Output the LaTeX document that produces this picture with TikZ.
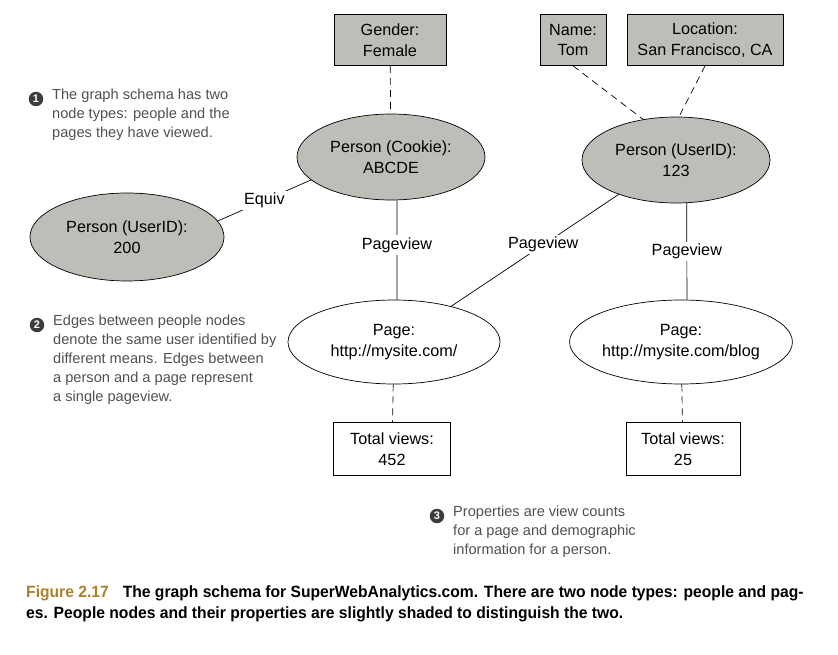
\documentclass[tikz,border=0pt]{standalone}
\usepackage{fontspec}
\setmainfont{Liberation Sans}
\newfontfamily\capfont[FakeStretch=0.96]{Liberation Sans}
\usetikzlibrary{shapes.geometric}
\definecolor{pgray}{RGB}{190,190,185}
\definecolor{anntext}{RGB}{80,80,80}
\definecolor{bullet}{RGB}{60,60,60}
\definecolor{figgold}{RGB}{170,130,45}
\tikzset{
  person/.style={ellipse,draw=black,fill=pgray,line width=0.7pt,minimum width=188pt,minimum height=86pt,inner sep=0pt,align=center,font=\fontsize{16.2}{20.5}\selectfont},
  pagenode/.style={ellipse,draw=black,fill=white,line width=0.7pt,minimum width=212pt,minimum height=84pt,inner sep=0pt,align=center,font=\fontsize{16.2}{20.5}\selectfont},
  propbox/.style={rectangle,draw=black,fill=pgray,line width=0.7pt,align=center,inner sep=0pt,font=\fontsize{16.2}{20.5}\selectfont},
  viewbox/.style={rectangle,draw=black,fill=white,line width=0.7pt,align=center,inner sep=0pt,font=\fontsize{16.2}{20.5}\selectfont},
  edge/.style={draw=black,line width=0.7pt},
  prop/.style={draw=black,line width=0.7pt,dash pattern=on 7pt off 5pt},
  elabel/.style={fill=white,inner sep=2pt,font=\fontsize{16.2}{20}\selectfont},
  ann/.style={anchor=north west,align=left,text=anntext,inner sep=0pt,font=\fontsize{14.6}{19}\selectfont},
  bul/.style={circle,fill=bullet,text=white,inner sep=0pt,minimum size=14.5pt,font=\fontsize{11}{11}\selectfont\bfseries},
  captext/.style={anchor=west,inner sep=0pt,font=\capfont\fontsize{16.3}{20}\selectfont\bfseries}
}
\begin{document}
\begin{tikzpicture}[x=1pt,y=-1pt]
\useasboundingbox (0,0) rectangle (838,655);
% property boxes
\node[propbox,minimum width=112pt,minimum height=51pt] (gender) at (390,40) {Gender:\\Female};
\node[propbox,minimum width=66pt,minimum height=51pt] (name) at (573,40) {Name:\\Tom};
\node[propbox,minimum width=156pt,minimum height=51pt] (loc) at (705,40) {Location:\\San Francisco, CA};
% persons
\node[person] (cookie) at (391,157) {Person (Cookie):\\ABCDE};
\node[person] (u123) at (676,160) {Person (UserID):\\123};
\node[person,minimum width=194pt,minimum height=88pt] (u200) at (127,237) {Person (UserID):\\200};
% pages
\node[pagenode] (page1) at (394,342) {Page:\\http://mysite.com/};
\node[pagenode,minimum width=220pt] (page2) at (681,342) {Page:\\http://mysite.com/blog};
% view boxes
\node[viewbox,minimum width=117pt,minimum height=53pt] (tv1) at (392,449) {Total views:\\452};
\node[viewbox,minimum width=114pt,minimum height=53pt] (tv2) at (683,449) {Total views:\\25};
% connectors
\draw[prop] (gender) -- (cookie);
\draw[prop] (name.south) -- (u123.129);
\draw[prop] (loc.south) -- (u123.86);
\draw[edge] (u200.10) -- node[elabel] {Equiv} (cookie.196);
\draw[edge] (cookie.278) -- node[elabel,pos=0.45] {Pageview} (page1.86);
\draw[edge] (u123.211) -- node[elabel,pos=0.45] {Pageview} (page1.32);
\draw[edge] (u123.284) -- node[elabel,pos=0.5] {Pageview} (page2.82);
\draw[prop] (page1) -- (tv1);
\draw[prop] (page2) -- (tv2);
% annotations
\node[bul] (b1) at (36,99) {1};
\node[ann] (a1) at (52,89) {The graph schema has two\\node types: people and the\\pages they have viewed.};
\node[bul] (b2) at (37,325) {2};
\node[ann] (a2) at (53,315) {Edges between people nodes\\denote the same user identified by\\different means. Edges between\\a person and a page represent\\a single pageview.};
\node[bul] (b3) at (437,516) {3};
\node[ann] (a3) at (453,506) {Properties are view counts\\for a page and demographic\\information for a person.};
% caption
\node[captext] (c1) at (26,593) {\textcolor{figgold}{Figure 2.17}\hspace{14pt}The graph schema for SuperWebAnalytics.com. There are two node types: people and pag-};
\node[captext] (c2) at (26,614) {es. People nodes and their properties are slightly shaded to distinguish the two.};
\end{tikzpicture}
\end{document}
